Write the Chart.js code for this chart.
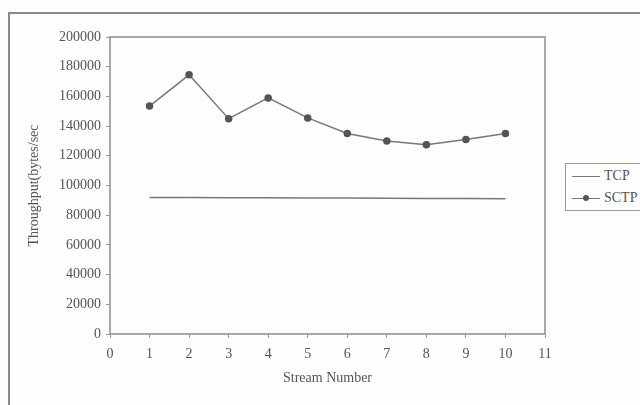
<!DOCTYPE html>
<html>
<head>
<meta charset="utf-8">
<script src="https://cdn.jsdelivr.net/npm/chart.js@4/dist/chart.umd.min.js"></script>
<style>
    body { margin: 0; background: #fdfdfc; }
    #wrap { position: relative; width: 640px; height: 405px; overflow: hidden; }
    #frame { position: absolute; left: 8px; top: 12px; width: 700px; height: 500px; border: 2px solid #8a8a8a; }
    #legend {
        position: absolute; left: 565px; top: 163px; width: 90px; height: 46px;
        border: 1px solid #9a9a9a; background: #fdfdfc;
        font-family: "Liberation Serif", serif; font-size: 14px; color: #555555;
    }
    #legend div { position: relative; height: 20px; line-height: 20px; padding-left: 38px; margin-top: 2px; color: #555555; }
    #legend span.ln { position: absolute; left: 6px; top: 10px; width: 28px; border-top: 1px solid #777; }
    #legend span.pt { position: absolute; left: 17px; top: 7px; width: 6px; height: 6px; border-radius: 3px; background: #555; }
</style>
</head>
<body>
<div id="wrap">
    <div id="frame"></div>
    <canvas id="grafico" width="640" height="405"></canvas>
    <div id="legend"></div>
</div>
<script>
const streams = [1, 2, 3, 4, 5, 6, 7, 8, 9, 10];
const tcpValores = [92000, 91900, 91800, 91700, 91600, 91500, 91400, 91300, 91200, 91000];
const sctpValores = [153500, 174500, 145000, 159000, 145500, 135000, 130000, 127500, 131000, 135000];
const xTicks = [0, 11];
const yTicks = [0, 200000, 20000];

const corLinha = "#777777";
const fonte = { family: "Liberation Serif", size: 14 };

const moldura = {
    id: "moldura",
    afterDraw(chart) {
        const { ctx, chartArea: a } = chart;
        ctx.save();
        ctx.strokeStyle = "#8d8d8d";
        ctx.lineWidth = 1.5;
        ctx.strokeRect(a.left, a.top, a.right - a.left, a.bottom - a.top);
        ctx.restore();
    }
};

const ctx = document.getElementById("grafico").getContext("2d");
const chart = new Chart(ctx, {
    type: "line",
    data: {
        datasets: [
            {
                label: "TCP",
                data: streams.map((s, i) => ({ x: s, y: tcpValores[i] })),
                borderColor: corLinha,
                borderWidth: 1.5,
                pointRadius: 0,
                tension: 0,
            },
            {
                label: "SCTP",
                data: streams.map((s, i) => ({ x: s, y: sctpValores[i] })),
                borderColor: corLinha,
                borderWidth: 1.5,
                pointRadius: 3,
                pointBackgroundColor: "#555555",
                pointBorderColor: "#555555",
                tension: 0,
            },
        ],
    },
    options: {
        responsive: false,
        animation: false,
        layout: { padding: { left: 22, right: 95, top: 37, bottom: 14 } },
        plugins: { legend: { display: false }, tooltip: { enabled: false } },
        scales: {
            x: {
                type: "linear",
                min: xTicks[0],
                max: xTicks[1],
                ticks: { stepSize: 1, color: "#555", font: fonte, padding: 8 },
                grid: { drawOnChartArea: false, color: "#999", tickLength: 4 },
                border: { display: false },
                title: { display: true, text: "Stream Number", color: "#555", font: fonte, padding: { top: 6 } },
                afterFit(scale) { scale.height = 57; },
            },
            y: {
                min: yTicks[0],
                max: yTicks[1],
                ticks: {
                    stepSize: yTicks[2], color: "#555", font: fonte, padding: 5,
                    callback: v => String(v),
                },
                grid: { drawOnChartArea: false, color: "#999", tickLength: 4 },
                border: { display: false },
                title: { display: true, text: "Throughput(bytes/sec", color: "#555", font: fonte },
                afterFit(scale) { scale.width = 88; },
            },
        },
    },
    plugins: [moldura],
});

const legenda = document.getElementById("legend");
chart.data.datasets.forEach(ds => {
    const item = document.createElement("div");
    item.innerHTML = '<span class="ln"></span>' + (ds.pointRadius ? '<span class="pt"></span>' : "") + ds.label;
    legenda.appendChild(item);
});
</script>
</body>
</html>
